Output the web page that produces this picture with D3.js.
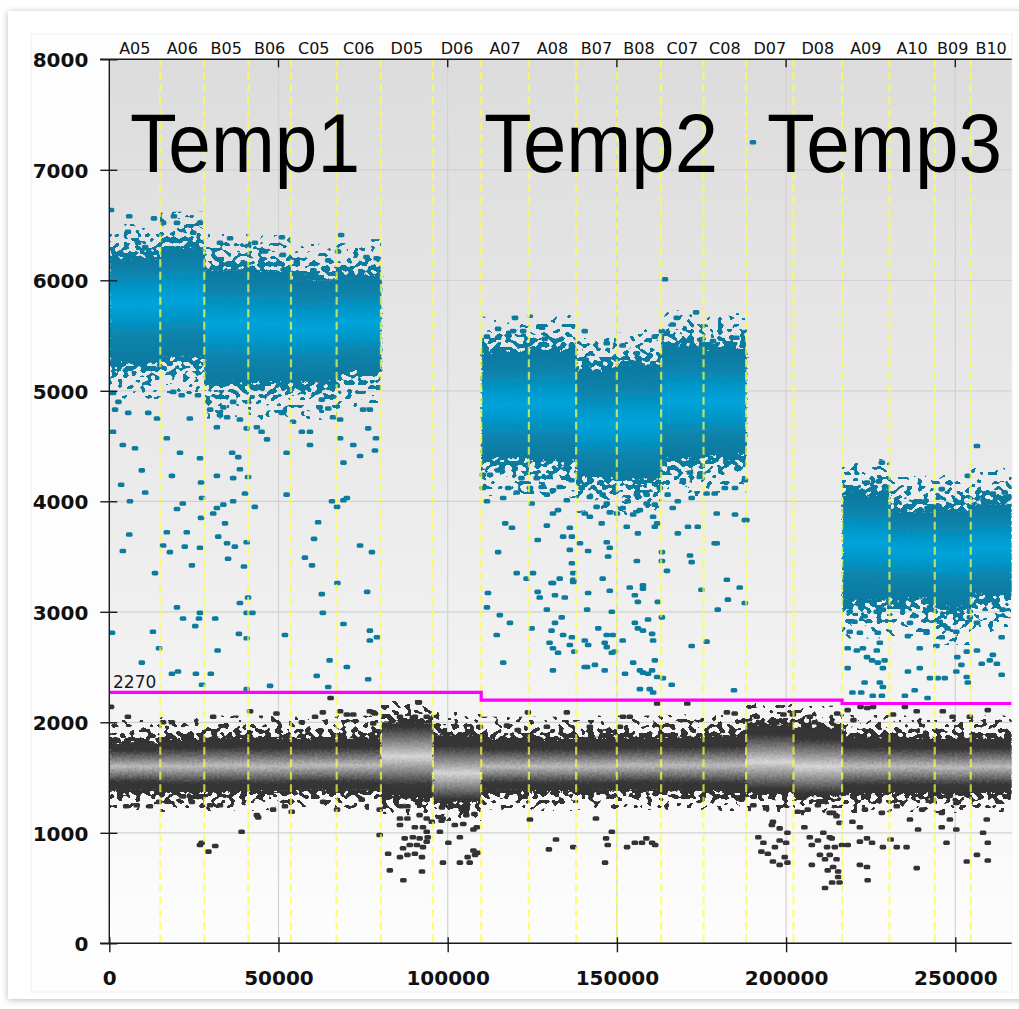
<!DOCTYPE html>
<html>
<head>
<meta charset="utf-8">
<script src="https://cdn.jsdelivr.net/npm/d3@7"></script>
<style>
  body { margin: 0; background: #ffffff; }
  svg { display: block; }
</style>
</head>
<body>
<svg id="chart" width="1019" height="1009"></svg>
<script>
// ---- Wells, droplet counts per well and targets ----
const wells = ["A05","A06","B05","B06","C05","C06","D05","D06",
               "A07","A08","B07","B08","C07","C08","D07","D08",
               "A09","A10","B09","B10"];
const wellEvents = [15070,13000,13000,12610,13500,13090,15360,14270,
                    14090,13970,12020,13090,12530,12590,14000,14360,
                    14000,13380,10640,12030];
const targets = ["Temp1","Temp2","Temp3"];
const targetWellCount = [8, 8, 4];
const thresholds = [2270, 2200, 2170];

// Positive droplet cluster per well: upper edge, brightest core, lower edge (null = no positives)
const posHigh = [6200,6300,6100,6090,6010,6050,null,null,5350,5370,5190,5240,5410,5380,null,null,4060,3910,3920,3980];
const posMid  = [5780,5820,5610,5600,5560,5620,null,null,4870,4880,4700,4720,4900,4900,null,null,3620,3550,3520,3580];
const posLow  = [5250,5300,5090,5070,5080,5180,null,null,4390,4370,4220,4210,4390,4420,null,null,3100,3120,3040,3150];

// Negative droplet cluster per well
const negHigh = [1820,1850,1860,1860,1850,1860,2000,1890,1850,1850,1860,1860,1870,1880,1980,1950,1870,1860,1850,1860];
const negMid  = [1600,1600,1610,1600,1610,1610,1690,1540,1600,1600,1600,1610,1610,1610,1640,1600,1600,1600,1590,1600];
const negLow  = [1380,1360,1370,1370,1380,1380,1330,1280,1380,1370,1380,1380,1380,1370,1360,1330,1350,1360,1350,1360];

// Individual droplets outside the dense clusters: [event number, amplitude]
const posDots = [
  [500,6636],[5900,6580],[13200,6560],[19100,6580],[26800,6520],[5500,6440],[15900,6520],[20000,6520],
  [24800,6430],[35700,6380],[32700,6340],[43000,6340],[41000,6310],[51000,6390],[68500,6410],[67600,6260],
  [76000,6210],[79000,6200],[64700,6180],[51300,6230],[55400,6160],[60300,6090],[46000,6260],[10600,6300],[8500,6340],
  [1100,4980],[2700,4900],[1700,4830],[5600,4800],[1100,4630],[4000,4510],[7600,4480],[9600,4280],[3500,4150],
  [10600,4080],[6100,4000],[5900,3700],[4000,3550],[13500,3350],[11500,4800],[14100,4750],[17000,4570],[18500,4230],
  [20900,4440],[21700,3980],[20000,3930],[17000,3720],[22900,3720],[15900,3600],[17900,3540],[22300,3590],[24400,3420],
  [26800,3580],[27100,3850],[27400,4030],[27100,4170],[26800,4390],[26200,4960],[21400,4960],[18900,4990],[23800,4750],
  [29800,4830],[32700,4780],[34800,4760],[36600,4900],[33700,4850],[31800,4670],[38600,4740],[40600,4660],[43600,4670],
  [45000,4630],[46600,4560],[38100,4400],[36300,4440],[36600,4210],[31800,4230],[41000,4220],[38600,4290],[40100,4070],
  [36600,4000],[33700,3970],[31800,3940],[30700,3890],[43000,3950],[34200,3800],[32200,3680],[34800,3620],[37100,3590],
  [40600,3630],[39800,3410],[35100,3480],[51000,4800],[52400,4440],[52400,4060],[54300,4720],[56900,4630],[59300,4630],
  [59300,4510],[61700,3810],[60500,3660],[57800,3490],[59900,3420],[65800,4000],[67300,3950],[70200,4030],[69200,4010],
  [68200,4570],[69200,4350],[66100,4760],[68200,4740],[72100,4510],[74100,4410],[76500,4660],[78800,4570],[78500,4460],
  [74100,3600],[77600,3540],[62800,4920],[62200,4850],[64700,4840],[75000,4830],[77000,4830],
  [800,2810],[12900,2820],[9600,2540],[14700,2670],[20300,2460],[25600,2440],[30000,2440],[27400,2340],[21800,2940],
  [20000,3040],[25400,2870],[26800,2990],[31300,2940],[26500,2940],[32000,2650],[38600,3080],[40600,2990],[42300,2990],
  [38300,2800],[40600,2760],[41000,3130],[51900,2790],[61300,2420],[62800,3160],[63100,2990],[65100,2560],[64700,2320],
  [70200,2500],[69200,2890],[77000,2830],[77000,2740],[76500,2390],[79100,2770],[76200,3180],[67400,3260],[47500,2330],
  [18500,2440],[40600,2300],
  [110400,4120],[111600,4000],[110400,4240],[114900,4280],[112500,4240],[117900,4120],[116400,4030],[120400,4080],
  [121800,4210],[124300,4120],[124800,3980],[126300,4210],[127800,4130],[130100,4220],[131100,4100],[129300,4060],
  [133100,4130],[135200,4010],[136600,4190],[139600,4120],[142000,4040],[144000,3950],[147000,3980],[145800,4060],
  [147900,3900],[150000,3890],[151700,3940],[153200,4000],[154800,3880],[156800,3920],[155900,4060],[158800,4060],
  [161200,3970],[161900,3800],[160700,3860],[162700,4120],[165000,4060],[168000,4000],[166500,3940],[169500,4190],
  [172100,4030],[171600,4260],[174500,4220],[176500,4070],[178900,4070],[181900,4120],[184900,4120],[187800,4190],
  [179500,3890],[184900,3880],[179500,3620],[188300,3830],[173900,3770],[171000,3770],[168000,3710],[117000,3800],
  [119000,3760],[114900,3540],[126600,3650],[129300,3780],[131100,3890],[132600,3920],[136100,3760],[136700,3680],
  [140500,3890],[142000,3860],[139100,3620],[141500,3550],[147000,3630],[147900,3580],[147400,3500],[145500,3800],
  [152900,3770],[156200,3710],[161200,3770],[163300,3540],[136100,3560],[136700,3440],[137100,3350],[137100,3290],
  [134100,3680],[120400,3350],[123300,3300],[125200,3350],[133100,3300],[130700,3260],[145800,3300],[155900,3460],
  [163300,3460],[164800,3370],[171600,3510],[172100,3450],[178900,3620],[187800,3830],[111900,3170],[111600,3040],
  [126600,3180],[127200,3130],[131100,3260],[131700,3150],[134600,3130],[137100,3270],[141500,3170],[141200,3020],
  [147900,3190],[148500,3000],[153800,3220],[155300,3150],[156200,3090],[157700,3240],[157700,3210],[162100,3090],
  [163300,2950],[129300,3020],[133700,2950],[175000,3200],[179800,3020],[182800,3110],[186300,3220],[187800,3080],
  [182500,3290],[115400,2970],[114500,2790],[118400,2900],[116400,2540],[124800,2850],[130700,2830],[131700,2900],
  [130100,2720],[131100,2670],[132600,2630],[134100,2790],[136100,2700],[136700,2770],[137400,2640],[140500,2740],
  [141500,2700],[140500,2500],[143500,2520],[144500,2850],[147000,2790],[146400,2720],[147000,2680],[148800,2790],
  [148500,2630],[149400,2640],[146400,2470],[151700,2740],[154800,2540],[155300,2900],[156200,2850],[157700,2830],
  [159200,2930],[160400,2800],[160700,2740],[161200,2560],[156800,2470],[157700,2450],[159200,2440],[160400,2470],
  [161900,2410],[156800,2300],[159700,2300],[166200,2340],[172100,2690],[176500,2730],[141200,2500],[131100,2470],
  [152400,2440],[160700,2270],[184600,2290],[158800,3980],[163600,2400],
  [119900,5660],[114900,5560],[111600,5490],[114900,5480],[119300,5540],[122300,5540],[127900,5570],[128700,5470],
  [140500,5540],[147000,5430],[151700,5410],[155900,5340],[163300,5540],[161200,5490],[166500,5600],[167700,5660],
  [173400,5710],[164200,6010],[178400,5450],[182800,5430],[185300,5480],[140800,5280],[136700,5410],[190200,7250],
  [228300,4350],[227400,4180],[223900,4170],[225400,4110],[229800,4130],[256400,4500],[253700,4230],[246000,4110],
  [239500,4000],[241800,3940],[261100,4070],[264600,4080],
  [218800,3000],[220200,2910],[223200,2960],[226800,3000],[228600,3020],[218800,2820],[221800,2810],[218200,2670],
  [220900,2650],[222700,2670],[226800,2650],[227700,2720],[227100,2810],[225400,2560],[227100,2540],[229100,2560],
  [223900,2590],[218200,2490],[228600,2490],[223200,2360],[227700,2360],[228600,2320],[219600,2270],[222200,2270],
  [225600,2240],[228300,2240],[234200,3090],[236600,2900],[236000,2780],[234200,3080],[239500,2670],[241500,2810],
  [236000,2460],[239500,2490],[242500,2400],[238000,2290],[235100,2240],[241800,2220],[245400,2910],[247700,2850],
  [250300,2820],[246000,2770],[244400,2690],[250600,2590],[253400,2640],[251800,2520],[256400,2650],[257800,2530],
  [260200,2560],[261100,2610],[262300,2530],[263700,2430],[253400,2410],[250300,2460],[246900,2400],[244800,2400],
  [253700,2360],[263700,2770],[264000,3020],[259300,3110],[261700,3080],[254300,2950],[256400,2900],[248900,3020],
  [242500,3040]
];

const negDots = [
  [500,2140],[5500,2050],[15900,2000],[18500,2000],[30700,2050],[41600,2100],[49400,2080],[56900,2000],
  [60800,2050],[63100,2090],[65400,2220],[68200,2100],[70200,2070],[72100,2070],[77000,2100],[78500,2080],
  [91500,2180],[85900,2050],[90300,2050],[93800,2050],[109500,1960],[117500,1970],[120700,1930],
  [5000,1240],[8100,1250],[12000,1240],[14700,1280],[21800,1330],[24400,1280],[29800,1250],[32700,1250],
  [27300,910],[26800,890],[29300,830],[31300,880],[39100,1010],[43600,1160],[44000,1140],[48400,1210],
  [51900,1240],[53900,1190],[63200,1280],[67300,1210],[74600,1300],[79900,1210],[79900,980],
  [78000,2090],[91300,2180],[89700,2040],[78000,1990],[86400,1240],[88100,1240],[91300,1270],[93800,1300],
  [98300,1230],[101100,1250],[104200,1210],[105500,1160],[107900,1170],[85900,1130],[88100,1130],[91700,1160],
  [93800,1130],[95300,1100],[98500,1130],[85900,1070],[90300,1050],[92700,1050],[93800,1010],[87300,950],
  [89700,960],[91700,950],[94100,960],[88800,890],[90900,890],[92700,870],[93800,920],[86800,860],[85900,780],
  [88100,800],[90300,810],[92400,780],[82400,810],[82900,660],[92400,650],[86900,570],[97700,1010],[100200,910],
  [98600,730],[103600,960],[103600,730],[106500,730],[107600,840],[108100,800],[108900,820],[105900,780],
  [107600,1030],[108600,1050],[104600,1080],[102100,1070],[98200,1110],
  [184800,2080],[191300,2050],[197100,2000],[202000,2070],[208500,2000],[215100,2080],[186800,1300],[190300,1250],
  [194100,1220],[196100,1100],[195800,1070],[198100,1040],[191800,960],[193300,910],[196700,870],[198100,930],
  [200000,910],[200400,1000],[192700,830],[194600,810],[196100,740],[199600,780],[198100,710],[200400,730],
  [205400,1050],[207000,960],[207600,890],[209400,930],[211000,1000],[212100,870],[213500,950],[214400,870],
  [210000,800],[211500,760],[212900,800],[214900,760],[207600,710],[213900,690],[215400,650],[215800,550],
  [215400,600],[206400,1210],[209400,1250],[212900,1180],[214900,1150],[203400,1190],[215800,1090],
  [146500,730],[143800,1130],[146800,950],[147300,890],[153000,870],[155300,910],[158700,950],[161300,890],
  [160400,910],[157400,910],[148500,1010],[137100,870],[132000,940],[129900,850],[124300,1120],[218200,890],
  [216500,890],[221800,920],[223900,950],[225400,910],[224100,570],[223900,690],[221800,710],[223300,1210],
  [221800,1050],[219600,1100],[213900,1180],[212900,960],[212300,660],[211500,500],[213600,550],[228300,1180],
  [236600,1120],[239000,1030],[238600,680],[235600,870],[246000,1180],[248400,1120],[246000,1050],[247400,910],
  [250300,1030],[253400,740],[256400,800],[258200,1000],[259300,1120],[259600,910],[259600,750],[250300,1270],
  [243400,1300],[240200,1210],[232700,1240],[230900,940],[232700,870],[228600,870],
  [123700,2090],[170800,2170],[161900,2170],[182500,2090],[199200,2070],[207000,2050],[218200,2110],[219900,2020],
  [222000,2140],[224000,2130],[225700,2140],[231600,2070],[235100,2140],[238600,2100],[246300,2100],[249200,2050],
  [254300,2050],[259600,2110],[150900,1960],[153800,2050],[129300,1960],[142000,1960],[151800,2050],[135200,2090]
];

const xTicks = [0, 50000, 100000, 150000, 200000, 250000];
const yTicks = [0, 1000, 2000, 3000, 4000, 5000, 6000, 7000, 8000];

// ---- Layout ----
const W = 1019, H = 1009;
const plot = { left: 109.3, right: 1011.7, top: 59.3, bottom: 943.3 };
const totalEvents = d3.sum(wellEvents);

const x = d3.scaleLinear().domain([0, 250000]).range([plot.left, 955.3]);
const y = d3.scaleLinear().domain([0, 8000]).range([plot.bottom, plot.top]);

const ends = d3.cumsum(wellEvents);
const starts = [0, ...Array.from(ends).slice(0, -1)];

const svg = d3.select("#chart");
const defs = svg.append("defs");

// Window panel with soft shadow
const sh = defs.append("filter").attr("id", "panelShadow")
  .attr("x", "-3%").attr("y", "-3%").attr("width", "106%").attr("height", "106%");
sh.append("feDropShadow").attr("dx", 0).attr("dy", 1).attr("stdDeviation", 3.5)
  .attr("flood-color", "#000").attr("flood-opacity", 0.28);

svg.append("rect").attr("width", W).attr("height", H).attr("fill", "#ffffff");
svg.append("rect").attr("x", 8).attr("y", 11).attr("width", 1030).attr("height", 988)
  .attr("fill", "#ffffff").attr("filter", "url(#panelShadow)");
svg.append("rect").attr("x", 31).attr("y", 34).attr("width", 981).attr("height", 958)
  .attr("fill", "#fdfdfd").attr("stroke", "#f0f0f0").attr("stroke-width", 1);

// Plot background gradient
const bg = defs.append("linearGradient").attr("id", "plotBg")
  .attr("x1", 0).attr("y1", 0).attr("x2", 0).attr("y2", 1);
bg.append("stop").attr("offset", 0).attr("stop-color", "#dcdcdc");
bg.append("stop").attr("offset", 0.55).attr("stop-color", "#ededed");
bg.append("stop").attr("offset", 1).attr("stop-color", "#fdfdfd");

defs.append("clipPath").attr("id", "plotClip").append("rect")
  .attr("x", plot.left).attr("y", plot.top)
  .attr("width", plot.right - plot.left).attr("height", plot.bottom - plot.top);

svg.append("rect").attr("x", plot.left).attr("y", plot.top)
  .attr("width", plot.right - plot.left).attr("height", plot.bottom - plot.top)
  .attr("fill", "url(#plotBg)");

const gPlot = svg.append("g").attr("clip-path", "url(#plotClip)");

// Gridlines
gPlot.append("g").selectAll("line").data(yTicks.filter(d => d > 0 && d < 8000)).join("line")
  .attr("x1", plot.left).attr("x2", plot.right)
  .attr("y1", d => y(d)).attr("y2", d => y(d))
  .attr("stroke", "#d2d2d2").attr("stroke-width", 1.2);
gPlot.append("g").selectAll("line").data(xTicks.filter(d => d > 0)).join("line")
  .attr("x1", d => x(d)).attr("x2", d => x(d))
  .attr("y1", plot.top).attr("y2", plot.bottom)
  .attr("stroke", "#d2d2d2").attr("stroke-width", 1.2);

// Mottled texture inside the dense droplet clouds
const rough = defs.append("filter").attr("id", "rough")
  .attr("filterUnits", "userSpaceOnUse")
  .attr("x", 0).attr("y", 0).attr("width", W).attr("height", H);
rough.append("feTurbulence").attr("type", "fractalNoise").attr("baseFrequency", 0.4)
  .attr("numOctaves", 2).attr("seed", 7).attr("result", "noise");
rough.append("feDisplacementMap").attr("in", "SourceGraphic").attr("in2", "noise")
  .attr("scale", 6).attr("xChannelSelector", "R").attr("yChannelSelector", "G");

// Speckled cloud fringe: the fade gradient's alpha sets how densely droplets appear
function speckleFilter(id, color, seed) {
  const f = defs.append("filter").attr("id", id)
    .attr("filterUnits", "userSpaceOnUse")
    .attr("x", 0).attr("y", 0).attr("width", W).attr("height", H)
    .attr("color-interpolation-filters", "sRGB");
  f.append("feTurbulence").attr("type", "fractalNoise").attr("baseFrequency", "0.17 0.21")
    .attr("numOctaves", 1).attr("seed", seed).attr("result", "noise");
  f.append("feColorMatrix").attr("in", "noise").attr("type", "matrix")
    .attr("values", "0 0 0 0 0  0 0 0 0 0  0 0 0 0 0  1 0 0 0 0").attr("result", "nRaw");
  // widen the noise spread so the density fade covers the whole fringe
  const st = f.append("feComponentTransfer").attr("in", "nRaw").attr("result", "nA");
  st.append("feFuncA").attr("type", "linear").attr("slope", 3.2).attr("intercept", -1.1);
  f.append("feComposite").attr("in", "SourceAlpha").attr("in2", "nA").attr("operator", "arithmetic")
    .attr("k1", 0).attr("k2", 1).attr("k3", 1).attr("k4", -1).attr("result", "sum");
  const ct = f.append("feComponentTransfer").attr("in", "sum").attr("result", "mask");
  ct.append("feFuncA").attr("type", "linear").attr("slope", 25).attr("intercept", 0);
  f.append("feFlood").attr("flood-color", color).attr("result", "col");
  f.append("feComposite").attr("in", "col").attr("in2", "mask").attr("operator", "in");
}
speckleFilter("specklePos", "#0b7ba0", 11);
speckleFilter("speckleNeg", "#333333", 23);

const fadeUp = defs.append("linearGradient").attr("id", "fadeUp")
  .attr("x1", 0).attr("y1", 0).attr("x2", 0).attr("y2", 1);
fadeUp.append("stop").attr("offset", 0).attr("stop-color", "#000").attr("stop-opacity", 0.06);
fadeUp.append("stop").attr("offset", 0.5).attr("stop-color", "#000").attr("stop-opacity", 0.3);
fadeUp.append("stop").attr("offset", 1).attr("stop-color", "#000").attr("stop-opacity", 0.85);
const fadeDown = defs.append("linearGradient").attr("id", "fadeDown")
  .attr("x1", 0).attr("y1", 0).attr("x2", 0).attr("y2", 1);
fadeDown.append("stop").attr("offset", 0).attr("stop-color", "#000").attr("stop-opacity", 0.85);
fadeDown.append("stop").attr("offset", 0.5).attr("stop-color", "#000").attr("stop-opacity", 0.3);
fadeDown.append("stop").attr("offset", 1).attr("stop-color", "#000").attr("stop-opacity", 0.06);

// Fringe depth in amplitude units beyond each cluster edge
const posFringe = { above: 320, below: 340 };
const negFringe = { above: 200, below: 170 };

function fringe(sel, idx, hi, lo, fr) {
  sel.selectAll("rect.up").data(idx).join("rect").attr("class", "up")
    .attr("x", i => x(starts[i])).attr("width", i => x(ends[i]) - x(starts[i]))
    .attr("y", i => y(hi[i] + fr.above)).attr("height", i => y(hi[i]) - y(hi[i] + fr.above) + 1)
    .attr("fill", "url(#fadeUp)");
  sel.selectAll("rect.dn").data(idx).join("rect").attr("class", "dn")
    .attr("x", i => x(starts[i])).attr("width", i => x(ends[i]) - x(starts[i]))
    .attr("y", i => y(lo[i]) - 1).attr("height", i => y(lo[i] - fr.below) - y(lo[i]) + 1)
    .attr("fill", "url(#fadeDown)");
}

const clamp = v => Math.max(0, Math.min(1, v));
const allIdx = wells.map((w, i) => i);
const posIdx = allIdx.filter(i => posHigh[i] !== null);

// Negative cluster bands
allIdx.forEach(i => {
  const hasPos = posHigh[i] !== null;
  const y1 = y(negHigh[i]), y2 = y(negLow[i]);
  const m = (y(negMid[i]) - y1) / (y2 - y1);
  const light = hasPos ? "#bcbcbc" : "#d6d6d6";
  const half = hasPos ? 0.13 : 0.2;
  const g = defs.append("linearGradient").attr("id", "neg" + i)
    .attr("gradientUnits", "userSpaceOnUse")
    .attr("x1", 0).attr("x2", 0).attr("y1", y1).attr("y2", y2);
  [[0, "#333333"], [clamp(m - half - 0.2), "#363636"], [clamp(m - half), "#858585"],
   [m, light], [clamp(m + half), "#858585"], [clamp(m + half + 0.18), "#373737"], [1, "#333333"]]
    .forEach(([o, c]) => g.append("stop").attr("offset", o).attr("stop-color", c));
});
fringe(gPlot.append("g").attr("filter", "url(#speckleNeg)"), allIdx, negHigh, negLow, negFringe);
gPlot.append("g").attr("filter", "url(#rough)")
  .selectAll("rect").data(allIdx).join("rect")
  .attr("x", i => x(starts[i]))
  .attr("width", i => x(ends[i]) - x(starts[i]) + 0.5)
  .attr("y", i => y(negHigh[i]))
  .attr("height", i => y(negLow[i]) - y(negHigh[i]))
  .attr("fill", i => `url(#neg${i})`);

// Positive cluster bands
posIdx.forEach(i => {
  const y1 = y(posHigh[i]), y2 = y(posLow[i]);
  const m = (y(posMid[i]) - y1) / (y2 - y1);
  const g = defs.append("linearGradient").attr("id", "pos" + i)
    .attr("gradientUnits", "userSpaceOnUse")
    .attr("x1", 0).attr("x2", 0).attr("y1", y1).attr("y2", y2);
  [[0, "#0a79a0"], [clamp(m - 0.3), "#0983ac"], [clamp(m - 0.14), "#0497c9"],
   [m, "#01a3da"], [clamp(m + 0.15), "#0496c8"], [clamp(m + 0.3), "#0984ad"], [1, "#0a79a0"]]
    .forEach(([o, c]) => g.append("stop").attr("offset", o).attr("stop-color", c));
});
fringe(gPlot.append("g").attr("filter", "url(#specklePos)"), posIdx, posHigh, posLow, posFringe);
gPlot.append("g").attr("filter", "url(#rough)")
  .selectAll("rect").data(posIdx).join("rect")
  .attr("x", i => x(starts[i]))
  .attr("width", i => x(ends[i]) - x(starts[i]) + 0.5)
  .attr("y", i => y(posHigh[i]))
  .attr("height", i => y(posLow[i]) - y(posHigh[i]))
  .attr("fill", i => `url(#pos${i})`);

// Scattered droplets
const dot = (sel, data, color) => sel.selectAll("rect").data(data).join("rect")
  .attr("x", d => x(d[0]) - 3.3).attr("y", d => y(d[1]) - 2.3)
  .attr("width", 6.6).attr("height", 4.6).attr("rx", 1.6)
  .attr("fill", color);
dot(gPlot.append("g"), negDots, "#333333");
dot(gPlot.append("g"), posDots, "#0c7b9e");

// Well boundaries
gPlot.append("g").selectAll("line").data(Array.from(ends).slice(0, -1)).join("line")
  .attr("x1", d => x(d)).attr("x2", d => x(d))
  .attr("y1", plot.top).attr("y2", plot.bottom)
  .attr("stroke", "#ffff3c").attr("stroke-opacity", 0.72)
  .attr("stroke-width", 2.2).attr("stroke-dasharray", "8,4.5");

// Threshold step line
const groupStart = [];
let acc = 0;
targetWellCount.forEach(n => { groupStart.push(starts[acc]); acc += n; });
const thrPts = thresholds.map((t, g) => [groupStart[g], t]);
thrPts.push([totalEvents, thresholds[thresholds.length - 1]]);
gPlot.append("path")
  .attr("d", d3.line().x(d => x(d[0])).y(d => y(d[1])).curve(d3.curveStepAfter)(thrPts))
  .attr("fill", "none").attr("stroke", "#ff00ff").attr("stroke-width", 3.2);

svg.append("text").attr("x", 113).attr("y", y(thresholds[0]) - 4)
  .attr("font-family", "DejaVu Sans, sans-serif").attr("font-size", 17)
  .attr("fill", "#1a1a1a").text(thresholds[0]);

// Target names
const nameX = [[130, 230], [484, 234], [767, 235]];
targets.forEach((t, g) => {
  svg.append("text").attr("x", nameX[g][0]).attr("y", 172)
    .attr("font-family", "Liberation Sans, Arial, sans-serif").attr("font-size", 83)
    .attr("textLength", nameX[g][1]).attr("lengthAdjust", "spacingAndGlyphs")
    .attr("fill", "#000").text(t);
});

// Axes
const axisColor = "#1a1a1a";
const gy = svg.append("g").attr("transform", `translate(${plot.left},0)`)
  .call(d3.axisLeft(y).tickValues(yTicks).tickSize(9).tickPadding(0).tickFormat(d3.format("d")));
gy.select(".domain").remove();
gy.selectAll(".tick line").attr("x1", -9).attr("x2", 8).attr("stroke", axisColor).attr("stroke-width", 1.4);
gy.selectAll(".tick text").attr("x", -21).attr("dy", "0.36em")
  .attr("font-family", "DejaVu Sans, sans-serif").attr("font-weight", "bold")
  .attr("font-size", 20).attr("fill", "#111");

const gx = svg.append("g").attr("transform", `translate(0,${plot.bottom})`)
  .call(d3.axisBottom(x).tickValues(xTicks).tickSize(9).tickPadding(0).tickFormat(d3.format("d")));
gx.select(".domain").remove();
gx.selectAll(".tick line").attr("y1", -6).attr("y2", 9).attr("stroke", axisColor).attr("stroke-width", 1.4);
gx.selectAll(".tick text").attr("y", 28)
  .attr("font-family", "DejaVu Sans, sans-serif").attr("font-weight", "bold")
  .attr("font-size", 20).attr("fill", "#111");

// Axis lines: left, bottom and top frame
svg.append("line").attr("x1", plot.left).attr("x2", plot.left).attr("y1", plot.top).attr("y2", plot.bottom)
  .attr("stroke", axisColor).attr("stroke-width", 1.4);
svg.append("line").attr("x1", 100).attr("x2", plot.right).attr("y1", plot.bottom).attr("y2", plot.bottom)
  .attr("stroke", axisColor).attr("stroke-width", 1.4);
svg.append("line").attr("x1", 100).attr("x2", plot.right).attr("y1", plot.top).attr("y2", plot.top)
  .attr("stroke", axisColor).attr("stroke-width", 1.4);
svg.append("g").selectAll("line").data(xTicks.filter(d => d > 0)).join("line")
  .attr("x1", d => x(d)).attr("x2", d => x(d))
  .attr("y1", plot.top).attr("y2", plot.top + 8)
  .attr("stroke", axisColor).attr("stroke-width", 1.4);

// Well names along the top
svg.append("g").selectAll("text").data(wells).join("text")
  .attr("x", (d, i) => x((starts[i] + ends[i]) / 2))
  .attr("y", 54)
  .attr("text-anchor", "middle")
  .attr("font-family", "DejaVu Sans, sans-serif").attr("font-size", 16)
  .attr("fill", "#111").text(d => d);
</script>
</body>
</html>
